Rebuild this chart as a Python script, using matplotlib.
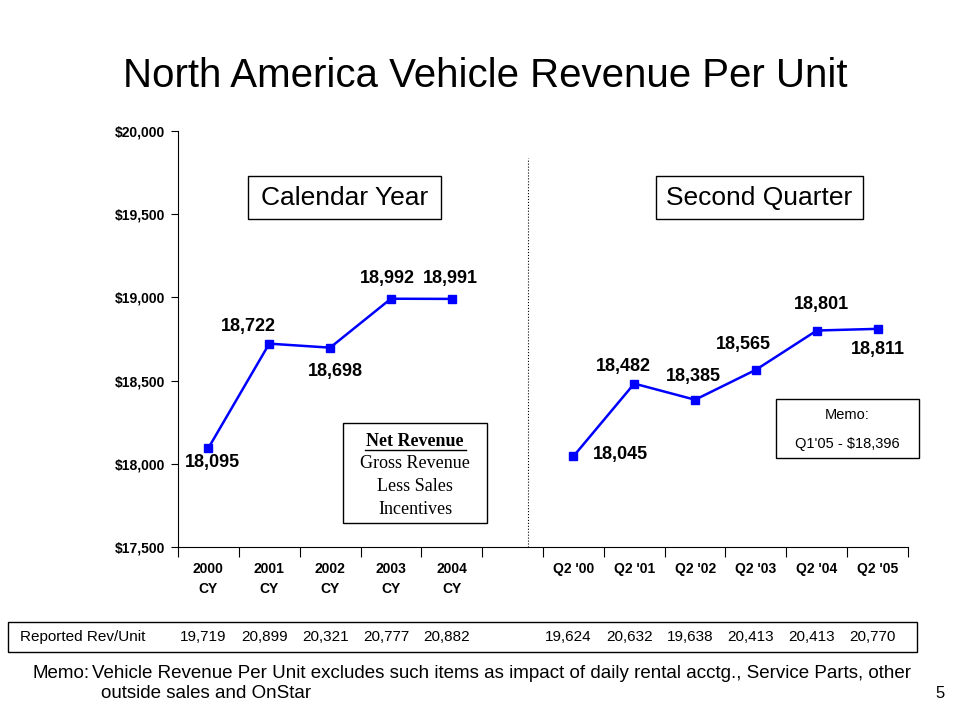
import matplotlib
matplotlib.use('Agg')
import matplotlib.pyplot as plt
from matplotlib.patches import Rectangle
from matplotlib.ticker import FuncFormatter

plt.rcParams['font.family'] = ['Liberation Sans', 'DejaVu Sans']

# data
cy_labels = ['2000\nCY', '2001\nCY', '2002\nCY', '2003\nCY', '2004\nCY']
cy_values = [18095, 18722, 18698, 18992, 18991]
q2_labels = ["Q2 '00", "Q2 '01", "Q2 '02", "Q2 '03", "Q2 '04", "Q2 '05"]
q2_values = [18045, 18482, 18385, 18565, 18801, 18811]
reported_cy = [19719, 20899, 20321, 20777, 20882]
reported_q2 = [19624, 20632, 19638, 20413, 20413, 20770]

# label offsets in pixels (dx, dy)
cy_offsets = [(4, -15), (-21, 17), (5, -24), (-4, 20), (-1, 20)]
q2_offsets = [(47, 2), (-11, 17), (-2, 23), (-13, 25), (5, 26), (0, -21)]

W, H = 960, 720
fig = plt.figure(figsize=(W / 100, H / 100), dpi=100)


def fx(px):
    return px / W


def fy(py):
    return 1 - py / H


def box(x0, y0, x1, y1, lw=1.0):
    fig.patches.append(Rectangle((fx(x0), fy(y1)), fx(x1) - fx(x0), fy(y0) - fy(y1),
                                 transform=fig.transFigure, fill=False,
                                 edgecolor='black', lw=lw))


ax = fig.add_axes([fx(178), fy(547), fx(908) - fx(178), fy(131) - fy(547)])

cy_x = list(range(len(cy_values)))
q2_x = [len(cy_values) + 1 + i for i in range(len(q2_values))]
blue = '#0000ff'
ax.plot(cy_x, cy_values, color=blue, lw=1.8, marker='s', ms=6)
ax.plot(q2_x, q2_values, color=blue, lw=1.8, marker='s', ms=6)

for xs, vals, offs in [(cy_x, cy_values, cy_offsets), (q2_x, q2_values, q2_offsets)]:
    for x, v, (dx, dy) in zip(xs, vals, offs):
        ax.annotate(f'{v:,}', (x, v), xytext=(dx, dy), textcoords='offset pixels',
                    ha='center', va='center', fontsize=13, fontweight='bold')

ax.set_xlim(-0.5, len(cy_x) + len(q2_x) + 0.5)
ax.set_ylim(17500, 20000)
ax.set_yticks(range(17500, 20001, 500))
ax.yaxis.set_major_formatter(FuncFormatter(lambda v, p: f'${v:,.0f}'))
ax.set_xticks(cy_x + q2_x)
ax.set_xticklabels(cy_labels + q2_labels)
ax.set_xticks([i - 0.5 for i in range(len(cy_x) + len(q2_x) + 2)], minor=True)
ax.tick_params(axis='x', which='major', length=0, pad=11, labelsize=10)
ax.tick_params(axis='x', which='minor', length=7, width=0.8)
ax.tick_params(axis='y', length=5, width=0.8, labelsize=10, pad=4)
for lab in ax.get_xticklabels() + ax.get_yticklabels():
    lab.set_fontweight('bold')
    lab.set_linespacing(1.5)
ax.spines['top'].set_visible(False)
ax.spines['right'].set_visible(False)
ax.spines['left'].set_linewidth(0.8)
ax.spines['bottom'].set_linewidth(0.8)

# divider between calendar year and quarter
ax.axvline(len(cy_x) + 0.25, ymax=0.935, color='black', ls=':', lw=0.8)

fig.text(fx(485), fy(76), 'North America Vehicle Revenue Per Unit',
         ha='center', va='center', fontsize=29)

# section boxes
box(248, 176, 441, 219)
fig.text(fx(344.5), fy(198), 'Calendar Year', ha='center', va='center', fontsize=19)
box(656, 176, 863, 219)
fig.text(fx(759.5), fy(198), 'Second Quarter', ha='center', va='center', fontsize=19)

box(343, 423, 487, 523)
serif = ['Liberation Serif', 'DejaVu Serif']
fig.text(fx(415), fy(441), 'Net Revenue', ha='center', va='center', fontsize=13,
         family=serif, fontweight='bold')
fig.add_artist(plt.Line2D([fx(365), fx(466)], [fy(450), fy(450)], color='black', lw=1))
for i, t in enumerate(['Gross Revenue', 'Less Sales', 'Incentives']):
    fig.text(fx(415), fy(464 + 22.6 * i), t, ha='center', va='center', fontsize=13, family=serif)

box(776, 399, 919, 458)
fig.text(fx(847.5), fy(415), 'Memo:', ha='center', va='center', fontsize=10.5)
fig.text(fx(847.5), fy(444), "Q1'05 - $18,396", ha='center', va='center', fontsize=10.5)

# reported rev/unit strip
box(8, 622, 917, 652)
fig.text(fx(20), fy(637), 'Reported Rev/Unit', ha='left', va='center', fontsize=11)
for xs, vals in [(cy_x, reported_cy), (q2_x, reported_q2)]:
    for x, v in zip(xs, vals):
        ax.annotate(f'{v:,}', (x, fy(637)), xycoords=('data', 'figure fraction'),
                    xytext=(-5, 0), textcoords='offset pixels', ha='center',
                    va='center', fontsize=11, annotation_clip=False)

fig.text(fx(32), fy(673), 'Memo:', ha='left', va='center', fontsize=13.5)
fig.text(fx(92), fy(673), 'Vehicle Revenue Per Unit excludes such items as impact of daily rental acctg., Service Parts, other',
         ha='left', va='center', fontsize=13.5)
fig.text(fx(101), fy(694), 'outside sales and OnStar', ha='left', va='center', fontsize=13.5)
fig.text(fx(940), fy(693), '5', ha='center', va='center', fontsize=12)

fig.savefig('out.png', dpi=100)
